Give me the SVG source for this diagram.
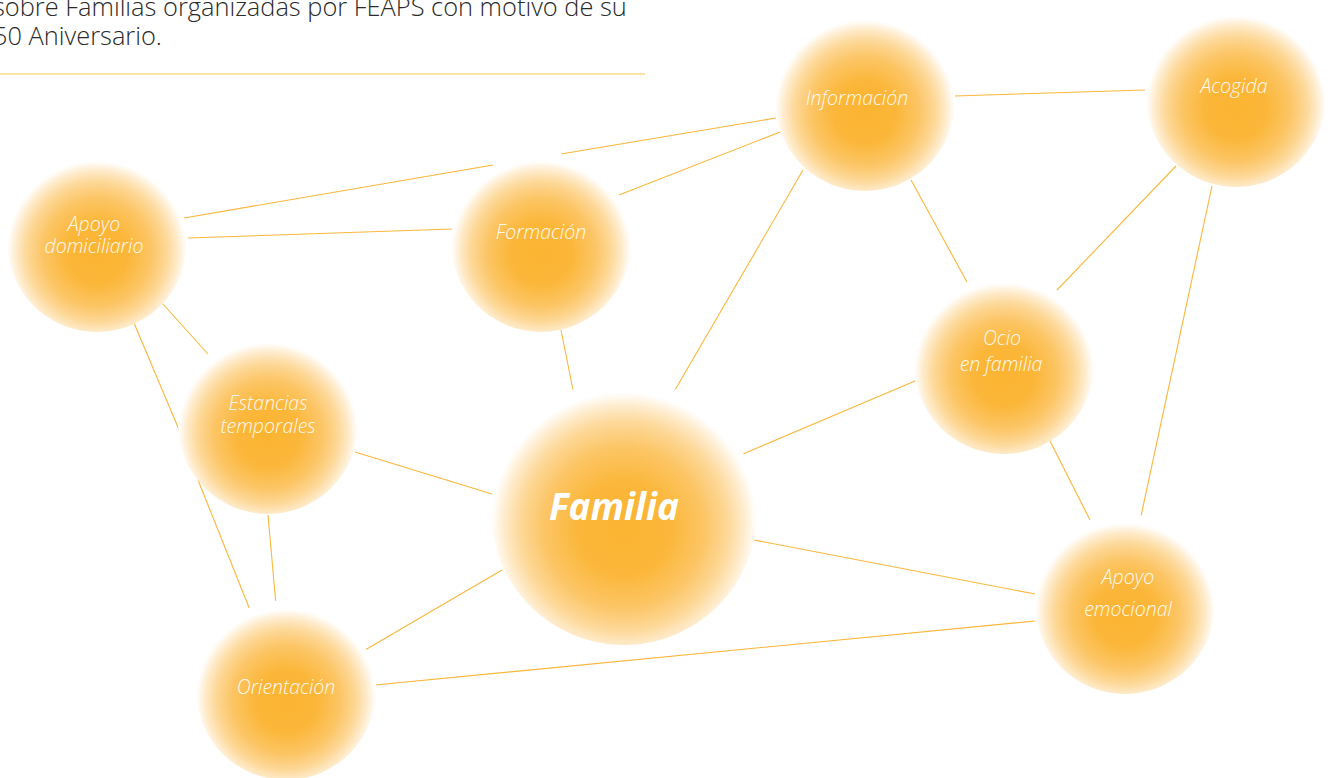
<svg xmlns="http://www.w3.org/2000/svg" width="1331" height="778" viewBox="0 0 1331 778">
<defs>
<radialGradient id="glow" cx="0.5" cy="0.55" r="0.5" fx="0.5" fy="0.57">
<stop offset="0" stop-color="#FBB431"/>
<stop offset="0.35" stop-color="#FBB73A"/>
<stop offset="0.6" stop-color="#FCC565"/>
<stop offset="0.78" stop-color="#FDD898"/>
<stop offset="0.9" stop-color="#FEEBCB"/>
<stop offset="0.97" stop-color="#FFF9F0"/>
<stop offset="1" stop-color="#FFFFFF"/>
</radialGradient>
<style>
.c{fill:url(#glow)}
.t{font-family:"Open Sans","Liberation Sans",sans-serif;font-style:italic;font-weight:300;font-size:19.5px;fill:#FFF9EC;text-anchor:middle}
.big{font-family:"Open Sans","Liberation Sans",sans-serif;font-style:italic;font-weight:bold;font-size:37px;fill:#FFFFFF;text-anchor:middle}
.hd{font-family:"Open Sans","Liberation Sans",sans-serif;font-weight:300;font-size:25.4px;fill:#2A2A2A}
.ln{stroke:#FBB63A;stroke-width:1.1;fill:none}
</style>
</defs>
<rect width="1331" height="778" fill="#FFFFFF"/>
<g id="header">
<text class="hd" x="-7" y="16">sobre Familias organizadas por FEAPS con motivo de su</text>
<text class="hd" x="-7" y="45">50 Aniversario.</text>
<line x1="0" y1="74" x2="645" y2="74" stroke="#FDD98C" stroke-width="1.5"/>
</g>
<g id="connectors" class="ln">
<line x1="184" y1="218" x2="493" y2="165"/>
<line x1="561" y1="154" x2="776" y2="118"/>
<line x1="188" y1="238" x2="452" y2="229"/>
<line x1="619" y1="195" x2="780" y2="132"/>
<line x1="955" y1="96" x2="1145" y2="90"/>
<line x1="162" y1="303" x2="208" y2="354"/>
<line x1="134" y1="323" x2="180" y2="432"/>
<line x1="198" y1="480" x2="250" y2="610"/>
<line x1="561" y1="330" x2="573" y2="390"/>
<line x1="803" y1="170" x2="675" y2="390"/>
<line x1="911" y1="180" x2="967" y2="282"/>
<line x1="1176" y1="166" x2="1057" y2="290"/>
<line x1="1212" y1="186" x2="1141" y2="516"/>
<line x1="915" y1="381" x2="743" y2="454"/>
<line x1="1050" y1="441" x2="1090" y2="520"/>
<line x1="355" y1="452" x2="492" y2="494"/>
<line x1="268" y1="515" x2="276" y2="605"/>
<line x1="502" y1="570" x2="365" y2="650"/>
<line x1="754" y1="540" x2="1035" y2="594"/>
<line x1="375" y1="685" x2="1035" y2="621"/>
</g>
<g id="apoyo-domiciliario">
<circle class="c" cx="97" cy="242" r="90"/>
<text class="t" x="94" y="231">Apoyo</text>
<text class="t" x="94" y="253">domiciliario</text>
</g>
<g id="formacion">
<circle class="c" cx="541" cy="242" r="90"/>
<text class="t" x="541" y="239">Formación</text>
</g>
<g id="informacion">
<circle class="c" cx="865" cy="101" r="90"/>
<text class="t" x="857" y="105">Información</text>
</g>
<g id="acogida">
<circle class="c" cx="1236" cy="97" r="90"/>
<text class="t" x="1234" y="93">Acogida</text>
</g>
<g id="ocio">
<circle class="c" cx="1004" cy="364" r="90"/>
<text class="t" x="1002" y="345">Ocio</text>
<text class="t" x="1001" y="371">en familia</text>
</g>
<g id="estancias">
<circle class="c" cx="268" cy="424" r="90"/>
<text class="t" x="268" y="410">Estancias</text>
<text class="t" x="268" y="433">temporales</text>
</g>
<g id="familia">
<circle class="c" cx="624" cy="512" r="133"/>
<text class="big" x="614" y="520">Familia</text>
</g>
<g id="apoyo-emocional">
<circle class="c" cx="1125" cy="604" r="90"/>
<text class="t" x="1128" y="584">Apoyo</text>
<text class="t" x="1128" y="616">emocional</text>
</g>
<g id="orientacion">
<circle class="c" cx="286" cy="690" r="90"/>
<text class="t" x="286" y="694">Orientación</text>
</g>
</svg>
